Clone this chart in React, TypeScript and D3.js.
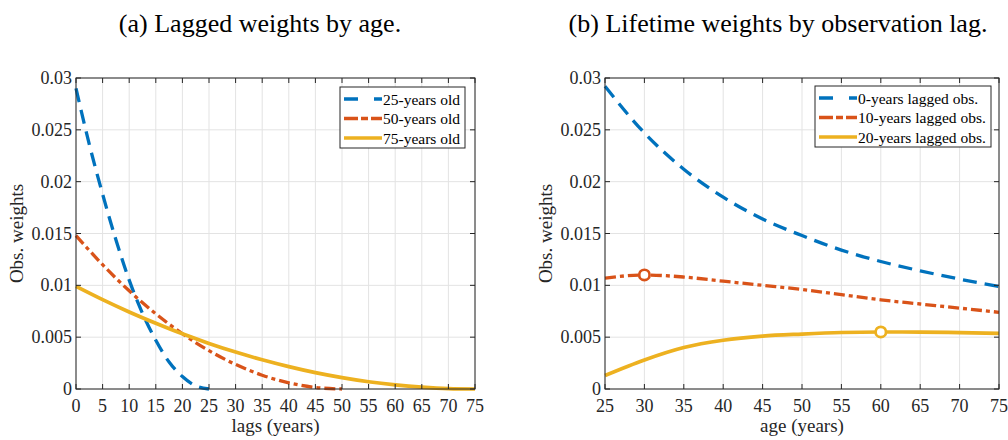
import React from "react";
import * as d3 from "d3";

// (a) weights by lag, one curve per age
const lags25 = [0, 2.5, 5, 7.5, 10, 12.5, 15, 17.5, 20, 22.5, 25];
const w25 = [0.029, 0.0236, 0.0188, 0.0144, 0.0105, 0.0073, 0.0047, 0.0026, 0.0012, 0.0003, 0];
const lags50 = [0, 5, 10, 15, 20, 25, 30, 35, 40, 45, 50];
const w50 = [0.0148, 0.01199, 0.00947, 0.00725, 0.00533, 0.0037, 0.00237, 0.00133, 0.00059, 0.00015, 0];
const lags75 = [0, 5, 10, 15, 20, 25, 30, 35, 40, 45, 50, 55, 60, 65, 70, 75];
const w75 = [0.0099, 0.00862, 0.00743, 0.00634, 0.00532, 0.0044, 0.00356, 0.00282, 0.00216, 0.00158, 0.0011, 0.0007, 0.0004, 0.00018, 0.00004, 0];

// (b) weights by age, one curve per observation lag
const ages = [25, 30, 35, 40, 45, 50, 55, 60, 65, 70, 75];
const lag0 = [0.0292, 0.0247, 0.0212, 0.0185, 0.0164, 0.0148, 0.0134, 0.0123, 0.0114, 0.0106, 0.0099];
const lag10 = [0.0107, 0.011, 0.0108, 0.0104, 0.01, 0.0096, 0.0091, 0.0086, 0.0082, 0.0078, 0.0074];
const lag20 = [0.0013, 0.0028, 0.004, 0.0047, 0.0051, 0.0053, 0.00545, 0.0055, 0.00549, 0.00544, 0.00537];
const peakAges = [30, 60];
const peakVals = [0.011, 0.0055];

const yTicks = [0, 0.005, 0.01, 0.015, 0.02, 0.025, 0.03];
const lagTicks = d3.range(0, 80, 5);
const ageTicks = d3.range(25, 80, 5);

const FONT = "'Liberation Serif', 'Times New Roman', serif";
const BLUE = "#0072BD";
const RED = "#D95319";
const YELLOW = "#EDB120";
const AXIS = "#262626";

const styles = [
  { color: BLUE, dash: "14,8", legendDash: "14,16", width: 3.3 },
  { color: RED, dash: "11,4,4,4", legendDash: "14,3,7,3", width: 3.3 },
  { color: YELLOW, dash: null, legendDash: null, width: 3.7 },
];

interface Series {
  xs: number[];
  ys: number[];
  label: string;
}

interface PanelProps {
  x0: number;
  x1: number;
  domain: [number, number];
  xTicks: number[];
  xLabel: string;
  series: Series[];
  legend: { x: number; y: number; w: number };
  markers?: { xs: number[]; ys: number[] };
}

const top = 78;
const bottom = 389;

function Panel({ x0, x1, domain, xTicks, xLabel, series, legend, markers }: PanelProps) {
  const x = d3.scaleLinear().domain(domain).range([x0, x1]);
  const y = d3.scaleLinear().domain([0, 0.03]).range([bottom, top]);
  const line = (xs: number[], ys: number[]) =>
    d3.line<number>()
      .x((_, i) => x(xs[i]))
      .y((d) => y(d))
      .curve(d3.curveMonotoneX)(ys) || "";

  return (
    <g>
      {/* grid */}
      {xTicks.map((t) => (
        <line key={"gx" + t} x1={x(t)} x2={x(t)} y1={top} y2={bottom} stroke="#e3e3e3" strokeWidth={1} />
      ))}
      {yTicks.map((t) => (
        <line key={"gy" + t} x1={x0} x2={x1} y1={y(t)} y2={y(t)} stroke="#e3e3e3" strokeWidth={1} />
      ))}

      {/* curves */}
      {series.map((s, i) => (
        <path
          key={s.label}
          d={line(s.xs, s.ys)}
          fill="none"
          stroke={styles[i].color}
          strokeWidth={styles[i].width}
          strokeDasharray={styles[i].dash || undefined}
        />
      ))}
      {markers && markers.xs.map((mx, i) => (
        <circle
          key={"m" + i}
          cx={x(mx)}
          cy={y(markers.ys[i])}
          r={5.2}
          fill="white"
          stroke={styles[i + 1].color}
          strokeWidth={2.7}
        />
      ))}

      {/* box + ticks */}
      <rect x={x0} y={top} width={x1 - x0} height={bottom - top} fill="none" stroke={AXIS} strokeWidth={1} />
      {xTicks.map((t) => (
        <g key={"tx" + t}>
          <line x1={x(t)} x2={x(t)} y1={bottom} y2={bottom - 5} stroke={AXIS} />
          <line x1={x(t)} x2={x(t)} y1={top} y2={top + 5} stroke={AXIS} />
          <text x={x(t)} y={412} textAnchor="middle" fontSize={18} fill={AXIS}>{t}</text>
        </g>
      ))}
      {yTicks.map((t) => (
        <g key={"ty" + t}>
          <line x1={x0} x2={x0 + 5} y1={y(t)} y2={y(t)} stroke={AXIS} />
          <line x1={x1} x2={x1 - 5} y1={y(t)} y2={y(t)} stroke={AXIS} />
          <text x={x0 - 4} y={y(t) + 6} textAnchor="end" fontSize={18} fill={AXIS}>{t}</text>
        </g>
      ))}

      <text x={(x0 + x1) / 2} y={432} textAnchor="middle" fontSize={19} fill={AXIS}>{xLabel}</text>
      <text
        transform={`translate(${x0 - 53},${(top + bottom) / 2}) rotate(-90)`}
        textAnchor="middle"
        fontSize={19}
        fill={AXIS}
      >
        Obs. weights
      </text>

      {/* legend */}
      <rect x={legend.x} y={legend.y} width={legend.w} height={61} fill="white" stroke={AXIS} strokeWidth={1} />
      {series.map((s, i) => {
        const ly = legend.y + 12 + i * 19.5;
        return (
          <g key={"lg" + s.label}>
            <line
              x1={legend.x + 4}
              x2={legend.x + 42}
              y1={ly}
              y2={ly}
              stroke={styles[i].color}
              strokeWidth={styles[i].width}
              strokeDasharray={styles[i].legendDash || undefined}
            />
            <text x={legend.x + 43} y={ly + 5.5} fontSize={15.5} fill="#000">{s.label}</text>
          </g>
        );
      })}
    </g>
  );
}

export default function App() {
  return (
    <svg
      width={1008}
      height={440}
      style={{ position: "absolute", left: 0, top: 0, background: "white" }}
      fontFamily={FONT}
    >
      <text x={260} y={32} textAnchor="middle" fontSize={26} fill="#000">(a) Lagged weights by age.</text>
      <text x={778} y={32} textAnchor="middle" fontSize={26} fill="#000">(b) Lifetime weights by observation lag.</text>
      <Panel
        x0={76}
        x1={475}
        domain={[0, 75]}
        xTicks={lagTicks}
        xLabel="lags (years)"
        series={[
          { xs: lags25, ys: w25, label: "25-years old" },
          { xs: lags50, ys: w50, label: "50-years old" },
          { xs: lags75, ys: w75, label: "75-years old" },
        ]}
        legend={{ x: 340, y: 87, w: 125 }}
      />
      <Panel
        x0={605}
        x1={999}
        domain={[25, 75]}
        xTicks={ageTicks}
        xLabel="age (years)"
        series={[
          { xs: ages, ys: lag0, label: "0-years lagged obs." },
          { xs: ages, ys: lag10, label: "10-years lagged obs." },
          { xs: ages, ys: lag20, label: "20-years lagged obs." },
        ]}
        legend={{ x: 815, y: 86, w: 176 }}
        markers={{ xs: peakAges, ys: peakVals }}
      />
    </svg>
  );
}
